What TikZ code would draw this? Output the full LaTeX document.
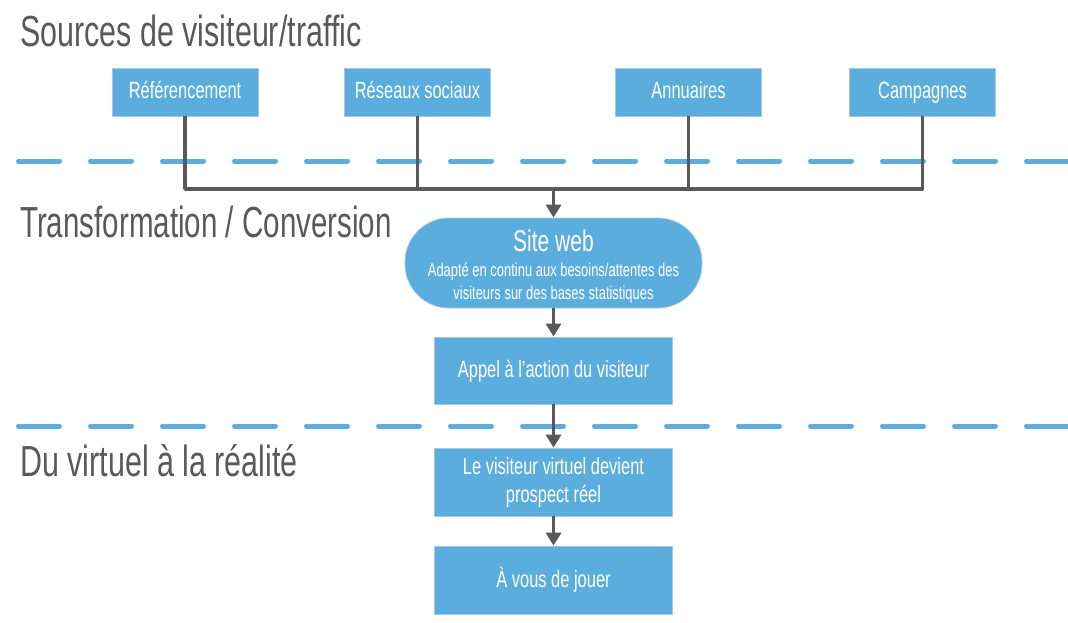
\documentclass[tikz,border=0pt]{standalone}
\usepackage{fontspec}
\setmainfont{Liberation Sans}[FakeStretch=0.7]
\usetikzlibrary{arrows.meta}
\definecolor{boxblue}{HTML}{5BADDE}
\definecolor{boxedge}{HTML}{A6C8E4}
\definecolor{linegrey}{HTML}{595959}
\definecolor{dashblue}{HTML}{5BADDE}
\newcommand{\subtxt}{\fontsize{18.5}{23}\selectfont}
\begin{document}
\begin{tikzpicture}[x=1pt,y=-1pt,
 box/.style={rectangle, fill=boxblue, draw=boxedge, line width=0.8pt, text=white, align=center, inner sep=0pt, font=\fontsize{23.5}{28}\selectfont},
 oneline/.style={text height=18pt, text depth=4pt},
 srcbox/.style={box, oneline, minimum width=146pt, minimum height=48pt},
 flowbox/.style={box, minimum width=238pt, minimum height=68pt},
 heading/.style={anchor=base west, text=linegrey, inner sep=0pt, font=\fontsize{43.5}{48}\selectfont},
 conn/.style={draw=linegrey, line width=3.5pt, line join=round},
 arr/.style={conn, -{Triangle[length=13pt,width=15pt]}},
 sep/.style={draw=dashblue, line width=5pt, line cap=round, dash pattern=on 41pt off 31pt}]
\useasboundingbox (0,0) rectangle (1068,623);
% separators
\draw[sep] (18.5,161) -- (1068,161);
\draw[sep] (18.5,426) -- (1068,426);
% headings
\node[heading] (h1) at (20,47) {Sources de visiteur/traffic};
\node[heading, xscale=0.97] (h2) at (20,237) {Transformation / Conversion};
\node[heading] (h3) at (20,476) {Du virtuel à la réalité};
% source boxes
\node[srcbox] (ref) at (185,92) {Référencement};
\node[srcbox] (res) at (417.5,92) {Réseaux sociaux};
\node[srcbox] (ann) at (688.5,92) {Annuaires};
\node[srcbox] (camp) at (922.5,92) {Campagnes};
% flow
\node[box, minimum width=297pt, minimum height=90pt, rounded corners=44pt] (site) at (553.5,263) {};
\node[text=white, inner sep=0pt, anchor=base, font=\fontsize{30}{32}\selectfont] (sitet) at (553.5,251) {Site web};
\node[text=white, inner sep=0pt, anchor=base, align=center, font=\subtxt] (sites) at (553.5,299)
  {\subtxt Adapté en continu aux besoins/attentes des\\\subtxt visiteurs sur des bases statistiques};
\node[flowbox, oneline, minimum height=67pt] (appel) at (553.5,370.5) {Appel à l’action du visiteur};
\node[flowbox] (visit) at (553.5,482) {Le visiteur virtuel devient\\prospect réel};
\node[flowbox, oneline] (jouer) at (553.5,580) {À vous de jouer};
% connectors
\coordinate (bus) at (553.5,189);
\draw[conn] (ref.south) |- (bus) -| (camp.south);
\draw[conn] (res.south) -- (res.south |- bus);
\draw[conn] (ann.south) -- (ann.south |- bus);
\draw[arr] (bus) -- (site.north);
\draw[arr] (site.south) -- (appel.north);
\draw[arr] (appel.south) -- (visit.north);
\draw[arr] (visit.south) -- (jouer.north);
\end{tikzpicture}
\end{document}
